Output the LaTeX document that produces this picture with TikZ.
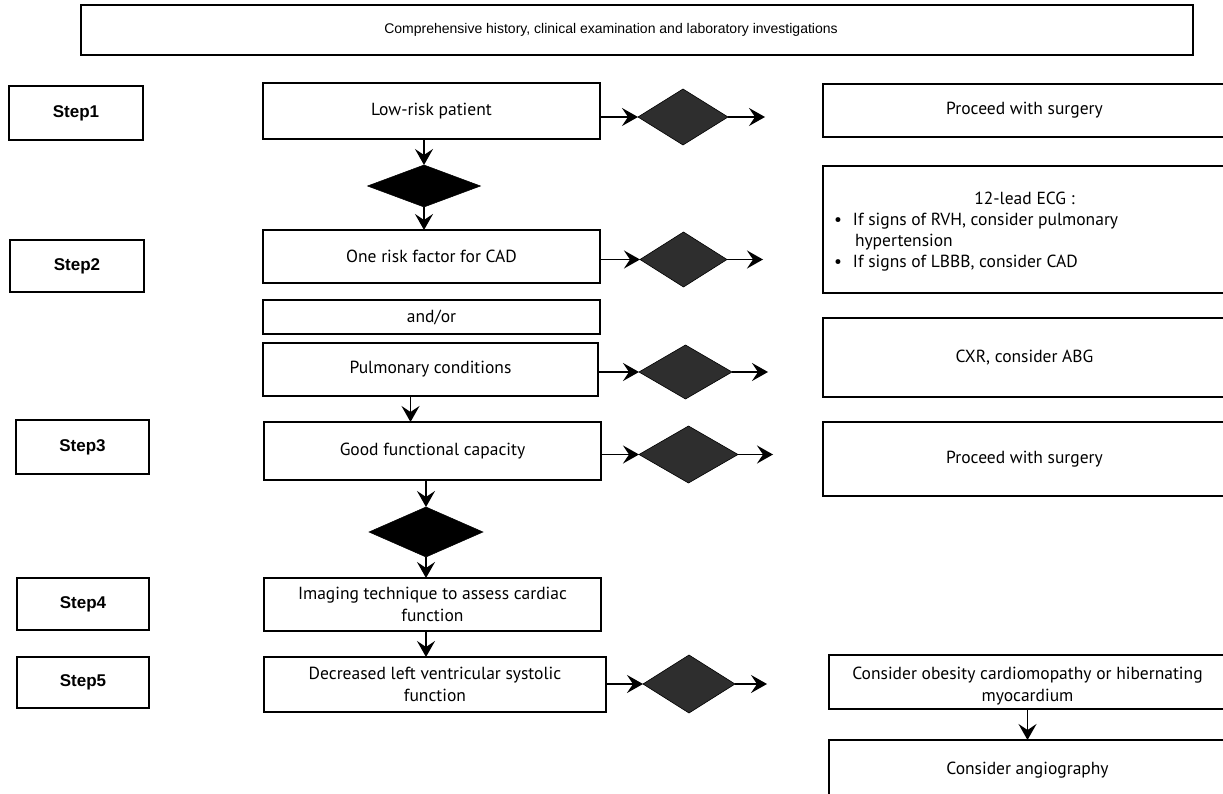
\documentclass[tikz,border=0pt]{standalone}
\usepackage{fontspec}
\setmainfont{PT Sans}
\newfontfamily\arialfont{Liberation Sans}
\usetikzlibrary{arrows.meta,shapes.geometric}
\begin{document}
\begin{tikzpicture}[x=1pt,y=-1pt,
  every node/.style={inner sep=0pt, outer sep=0pt},
  box/.style={draw, line width=1.3pt, rectangle, align=center,
    font=\fontsize{17.5}{22}\selectfont},
  stepbox/.style={draw, line width=1.3pt, rectangle,
    font=\arialfont\bfseries\fontsize{17}{20}\selectfont},
  topbox/.style={draw, line width=1.2pt, rectangle,
    font=\arialfont\fontsize{14}{17}\selectfont},
  bdia/.style={diamond, fill=black, draw=black, line width=0.5pt},
  gdia/.style={diamond, fill=black!82, draw=black, line width=0.6pt},
  arr/.style={-{Stealth[length=16pt,width=18pt,inset=6pt]}, line width=1.5pt},
]
\clip (0,0) rectangle (1223,794);
\fill[white] (0,0) rectangle (1223,794);

% top box
\node[topbox, minimum width=1112, minimum height=50] (top) at (637,30)
  {Comprehensive history, clinical examination and laboratory investigations\hspace*{52pt}};

% step boxes
\node[stepbox, minimum width=134, minimum height=54] (s1) at (76,113) {Step1};
\node[stepbox, minimum width=134, minimum height=52] (s2) at (77,266) {Step2};
\node[stepbox, minimum width=133, minimum height=54] (s3) at (82.5,447) {Step3};
\node[stepbox, minimum width=132, minimum height=52] (s4) at (83,604) {Step4};
\node[stepbox, minimum width=132, minimum height=51] (s5) at (83,682.5) {Step5};

% centre column
\node[box, minimum width=337, minimum height=56] (low) at (431.5,111) {Low-risk patient};
\node[bdia, minimum width=113, minimum height=42] (bd1) at (424,186) {};
\node[box, minimum width=337, minimum height=53] (one) at (431.5,256.5) {One risk factor for CAD};
\node[box, minimum width=337, minimum height=34] (andor) at (431.5,317) {and/or};
\node[box, minimum width=335, minimum height=53] (pulm) at (430.5,369.5) {Pulmonary conditions};
\node[box, minimum width=337, minimum height=58] (good) at (432.5,451) {Good functional capacity};
\node[bdia, minimum width=114, minimum height=50] (bd2) at (426,532) {};
\node[box, minimum width=337, minimum height=53] (img) at (432.5,604.5)
  {Imaging technique to assess cardiac\\function};
\node[box, minimum width=342, minimum height=55] (decr) at (435,684.5)
  {Decreased left ventricular systolic\\function};

% grey diamonds
\node[gdia, minimum width=90, minimum height=56] (gd1) at (683,117) {};
\node[gdia, minimum width=87, minimum height=55] (gd2) at (683.5,259.5) {};
\node[gdia, minimum width=93, minimum height=54] (gd3) at (685.5,372) {};
\node[gdia, minimum width=99, minimum height=57] (gd4) at (688.5,454.5) {};
\node[gdia, minimum width=92, minimum height=58] (gd5) at (689,684) {};

\coordinate (e1) at (765,117);
\coordinate (e2) at (763,259.5);
\coordinate (e3) at (768,372);
\coordinate (e4) at (773,454.5);
\coordinate (e5) at (767,684);

% right column
\node[box, minimum width=403, minimum height=53] (pr1) at (1024.5,110.5) {Proceed with surgery};
\node[box, minimum width=403, minimum height=127, align=left,
      font=\fontsize{17.5}{21}\selectfont] (ecg) at (1024.5,229.5)
  {\parbox{395pt}{\vspace*{4pt}\centering 12-lead ECG :\par\raggedright
   \makebox[26pt][l]{\hspace{7pt}\textbullet}If signs of RVH, consider pulmonary\par
   \hspace*{28pt}hypertension\par
   \makebox[26pt][l]{\hspace{7pt}\textbullet}If signs of LBBB, consider CAD}};
\node[box, minimum width=403, minimum height=79] (cxr) at (1024.5,357.5) {CXR, consider ABG};
\node[box, minimum width=403, minimum height=74] (pr2) at (1024.5,459) {Proceed with surgery};
\node[box, minimum width=397, minimum height=54] (obes) at (1027.5,682)
  {\parbox{390pt}{\vspace*{9pt}\centering Consider obesity cardiomopathy or hibernating\\myocardium}};
\node[box, minimum width=397, minimum height=60] (angio) at (1027.5,770) {Consider angiography};

% vertical arrows
\draw[arr] (low.south -| bd1.north) -- (bd1.north);
\draw[arr] (bd1.south) -- (bd1.south |- one.north);
\draw[arr] ([xshift=-20pt]pulm.south) -- ([xshift=-20pt]pulm.south |- good.north);
\draw[arr] (good.south -| bd2.north) -- (bd2.north);
\draw[arr] (bd2.south) -- (bd2.south |- img.north);
\draw[arr] (img.south -| bd2.south) -- (bd2.south |- decr.north);
\draw[arr] (obes.south) -- (obes.south |- angio.north);

% horizontal arrows
\draw[arr] (low.east |- gd1.west) -- (gd1.west);
\draw[arr] (gd1.east) -- (e1);
\draw[arr] (one.east |- gd2.west) -- (gd2.west);
\draw[arr] (gd2.east) -- (e2);
\draw[arr] (pulm.east |- gd3.west) -- (gd3.west);
\draw[arr] (gd3.east) -- (e3);
\draw[arr] (good.east |- gd4.west) -- (gd4.west);
\draw[arr] (gd4.east) -- (e4);
\draw[arr] (decr.east |- gd5.west) -- (gd5.west);
\draw[arr] (gd5.east) -- (e5);
\end{tikzpicture}
\end{document}
